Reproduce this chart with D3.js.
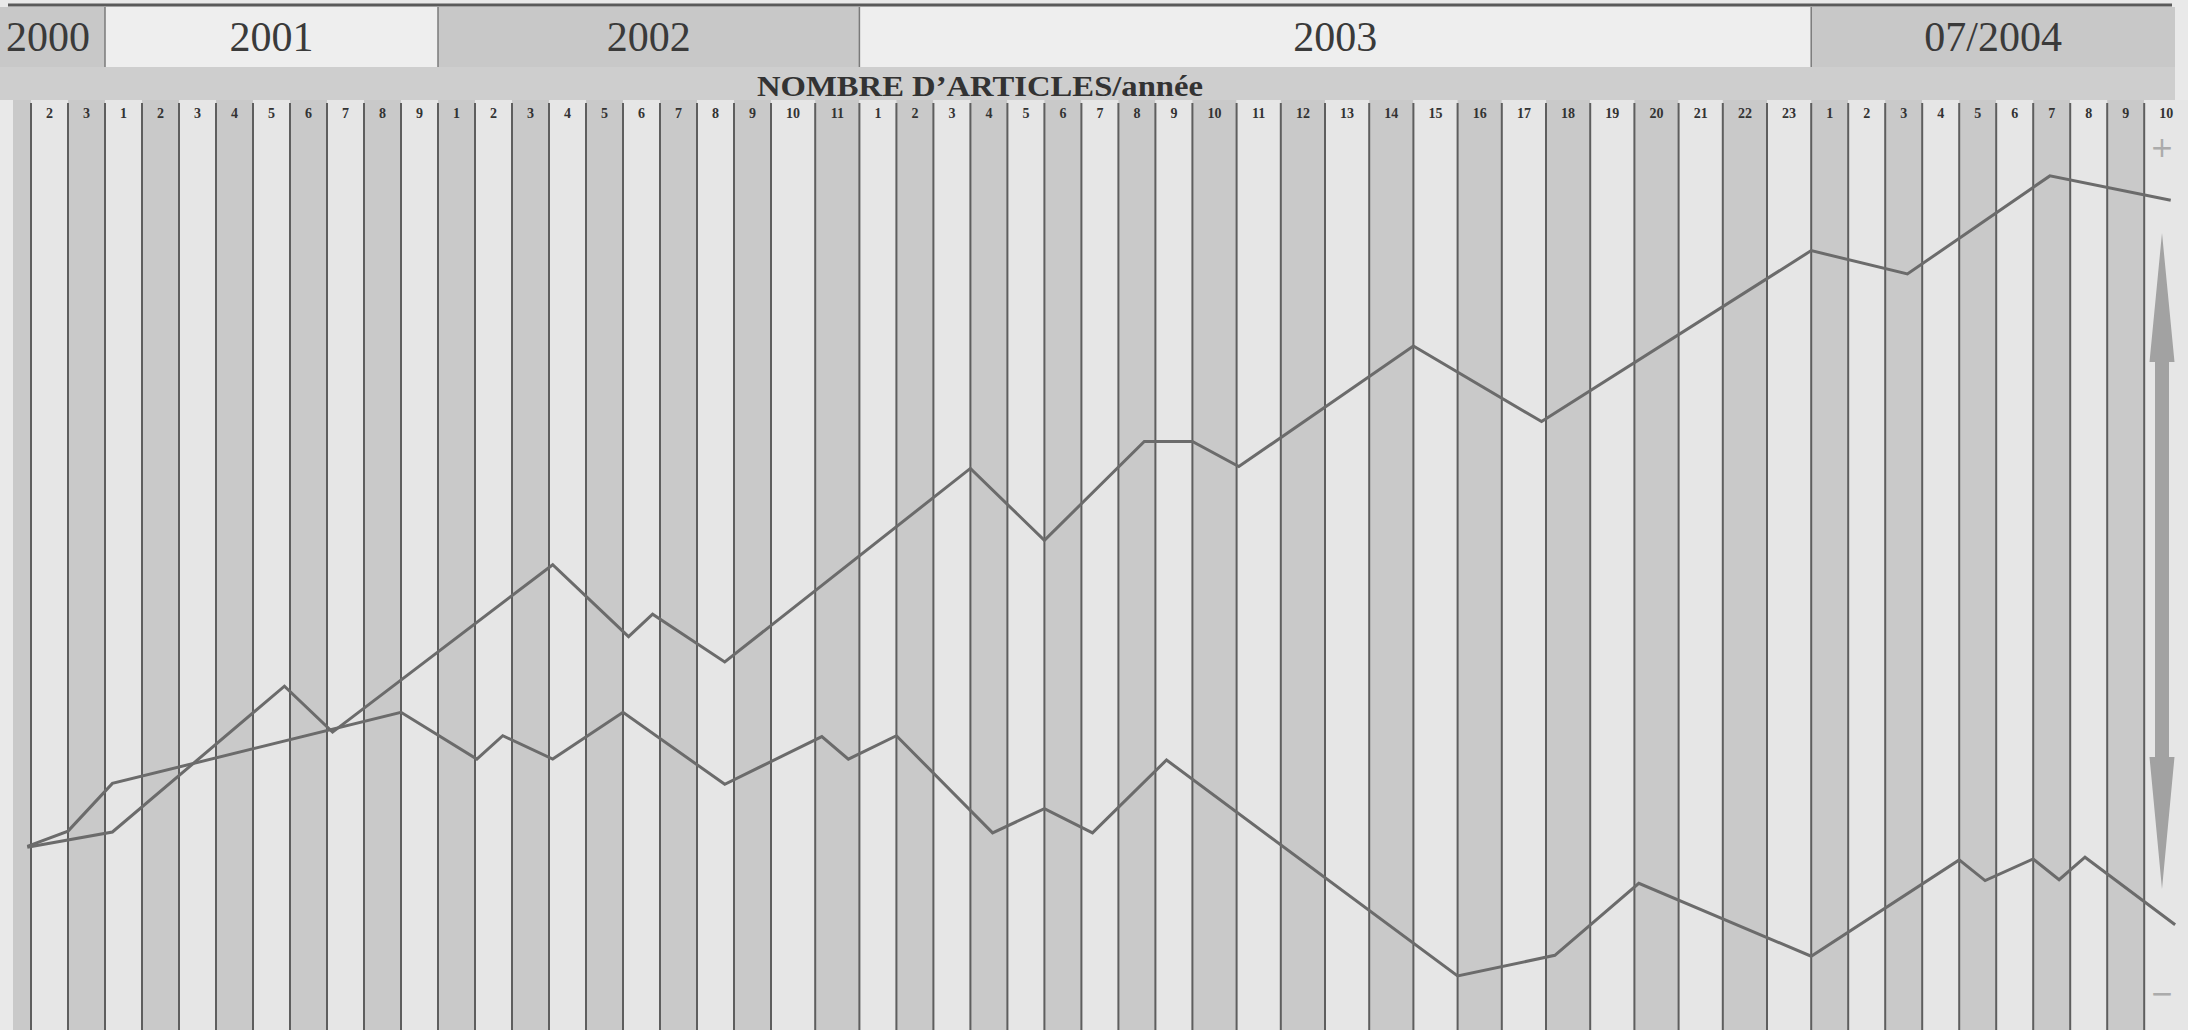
<!DOCTYPE html>
<html>
<head>
<meta charset="utf-8">
<script src="https://cdn.jsdelivr.net/npm/d3@7"></script>
<style>
	html, body { margin: 0; padding: 0; background: #e9e9e9; }
	svg { display: block; }
</style>
</head>
<body>
<div class="plot-1"></div>
<script>
/*Données du graphique*/
const years = [ '2000', '2001', '2002', '2003', '07/2004' ];
const labels2000 = [ '2', '3' ];
const labels2001 = [ '1', '2', '3', '4', '5', '6', '7', '8', '9' ];
const labels2002 = [ '1', '2', '3', '4', '5', '6', '7', '8', '9', '10', '11' ];
const labels2003 = [ '1', '2', '3', '4', '5', '6', '7', '8', '9', '10', '11', '12',
					'13', '14', '15', '16', '17', '18', '19', '20', '21', '22', '23' ];
const labels2004 = [ '1', '2', '3', '4', '5', '6', '7', '8', '9', '10' ];
const titre = 'NOMBRE D\u2019ARTICLES/année';

//période = rang de la colonne depuis la première colonne de 2000
const periodesA = [ -0.1, 2.2, 6.85, 8.15, 14.1, 16.15, 16.8, 18.75, 25, 27, 29.7, 31,
					32.05, 36, 38.9, 45, 47.6, 51.45, 54.6 ];
const articlesA = [ 20.3, 22.0, 38.2, 33.1, 51.7, 43.7, 46.2, 40.9, 62.4, 54.4, 65.4, 65.4,
					62.6, 76.0, 67.6, 86.6, 84.0, 94.9, 92.2 ];
const periodesB = [ -0.1, 1, 2.2, 10, 12.05, 12.75, 14.1, 16, 18.75, 21.15, 21.75, 23,
					25.6, 27, 28.3, 30.3, 37, 39.2, 41.1, 45, 49, 49.7, 51, 51.7, 52.4, 54.7 ];
const articlesB = [ 20.4, 22.1, 27.4, 35.3, 30.1, 32.7, 30.1, 35.3, 27.3, 32.6, 30.1, 32.7,
					21.9, 24.6, 21.9, 30.0, 6.0, 8.3, 16.3, 8.2, 18.9, 16.6, 19.0, 16.7, 19.2, 11.7 ];

/*Dimensions*/
var svgDims = { width: 2188, height: 1030 };
var haut = { line: 5, box: 7, boxBottom: 67, cols: 100 };
var colStart = 31;

var light = '#e6e6e6', dark = '#c9c9c9', bande = '#cecece', blanc = '#eeeeee';

//colonnes: largeur selon le nombre de chiffres du label
var yearLabels = [ labels2000, labels2001, labels2002, labels2003, labels2004 ];
var colonnes = [];
yearLabels.forEach( function( labs, i ){
	labs.forEach( function( l ){ colonnes.push( { label: l, year: i } ); } );
} );
var edges = [ colStart ];
colonnes.forEach( function( c ){
	edges.push( edges[ edges.length - 1 ] + ( c.label.length > 1 ? 44.2 : 37 ) );
} );

var xScale = d3.scaleLinear()
				.domain( d3.range( edges.length ) )
				.range( edges );

var yScale = d3.scaleLinear()
				.domain( [ 0, 100 ] )
				.range( [ svgDims.height, 130 ] );

//criar svg
var svg = d3.select( '.plot-1' )
			.append( 'svg' )
			.attr( 'width', svgDims.width )
			.attr( 'height', svgDims.height );

svg.append( 'rect' )
	.attr( 'width', svgDims.width ).attr( 'height', svgDims.height )
	.attr( 'fill', '#e9e9e9' );

//bande d'en-tête
svg.append( 'rect' )
	.attr( 'x', 0 ).attr( 'y', haut.box )
	.attr( 'width', 2175 ).attr( 'height', haut.cols - haut.box )
	.attr( 'fill', bande );

//cases des années
var debut = 0;
var cases = years.map( function( y, i ){
	var n = yearLabels[ i ].length;
	var x0 = i === 0 ? 0 : xScale( debut );
	var x1 = i === years.length - 1 ? 2175 : xScale( debut + n );
	debut += n;
	return { year: y, x0: x0, x1: x1, i: i };
} );

svg.selectAll( '.case' )
	.data( cases )
	.enter().append( 'rect' )
	.attr( 'x', function( d ){ return d.x0; } )
	.attr( 'y', haut.box )
	.attr( 'width', function( d ){ return d.x1 - d.x0; } )
	.attr( 'height', haut.boxBottom - haut.box )
	.attr( 'fill', function( d ){ return d.i % 2 ? blanc : '#c8c8c8'; } );

svg.selectAll( '.sep' )
	.data( cases.slice( 1 ) )
	.enter().append( 'line' )
	.attr( 'x1', function( d ){ return d.x0; } )
	.attr( 'x2', function( d ){ return d.x0; } )
	.attr( 'y1', haut.box ).attr( 'y2', haut.boxBottom )
	.attr( 'stroke', '#7a7a7a' ).attr( 'stroke-width', 1.5 );

svg.append( 'line' )
	.attr( 'x1', 8 ).attr( 'x2', 2172 )
	.attr( 'y1', haut.line ).attr( 'y2', haut.line )
	.attr( 'stroke', '#5a5a5a' ).attr( 'stroke-width', 3 );

svg.selectAll( '.annee' )
	.data( cases )
	.enter().append( 'text' )
	.attr( 'x', function( d ){ return d.i === 0 ? 90 : ( d.x0 + d.x1 ) / 2; } )
	.attr( 'y', 51 )
	.attr( 'text-anchor', function( d ){ return d.i === 0 ? 'end' : 'middle'; } )
	.style( 'font-family', '"Liberation Serif", "Times New Roman", serif' )
	.style( 'font-size', '42px' )
	.attr( 'fill', '#3a3a3a' )
	.text( function( d ){ return d.year; } );

svg.append( 'text' )
	.attr( 'x', 980 ).attr( 'y', 96 )
	.attr( 'text-anchor', 'middle' )
	.attr( 'textLength', 446 )
	.attr( 'lengthAdjust', 'spacingAndGlyphs' )
	.style( 'font-family', '"Liberation Serif", "Times New Roman", serif' )
	.style( 'font-size', '30px' )
	.style( 'font-weight', 'bold' )
	.attr( 'fill', '#333' )
	.text( titre );

//colonnes
svg.append( 'rect' )
	.attr( 'x', 13 ).attr( 'y', haut.cols )
	.attr( 'width', colStart - 13 ).attr( 'height', svgDims.height - haut.cols )
	.attr( 'fill', dark );

svg.selectAll( '.col' )
	.data( colonnes )
	.enter().append( 'rect' )
	.attr( 'x', function( d, i ){ return xScale( i ); } )
	.attr( 'y', haut.cols )
	.attr( 'width', function( d, i ){ return xScale( i + 1 ) - xScale( i ); } )
	.attr( 'height', svgDims.height - haut.cols )
	.attr( 'fill', function( d, i ){ return i % 2 ? dark : light; } );

svg.selectAll( '.trait' )
	.data( colonnes )
	.enter().append( 'line' )
	.attr( 'x1', function( d, i ){ return xScale( i ); } )
	.attr( 'x2', function( d, i ){ return xScale( i ); } )
	.attr( 'y1', haut.cols + 3 ).attr( 'y2', svgDims.height )
	.attr( 'stroke', '#5e5e5e' ).attr( 'stroke-width', 2 );

svg.selectAll( '.lab' )
	.data( colonnes )
	.enter().append( 'text' )
	.attr( 'x', function( d, i ){ return ( xScale( i ) + xScale( i + 1 ) ) / 2; } )
	.attr( 'y', 118 )
	.attr( 'text-anchor', 'middle' )
	.style( 'font-family', '"Liberation Serif", "Times New Roman", serif' )
	.style( 'font-size', '14px' )
	.style( 'font-weight', 'bold' )
	.attr( 'fill', '#333' )
	.text( function( d ){ return d.label; } );

//courbes
var ligne = d3.line()
				.x( function( d ){ return xScale( d[ 0 ] ); } )
				.y( function( d ){ return yScale( d[ 1 ] ); } );

[ [ periodesA, articlesA ], [ periodesB, articlesB ] ].forEach( function( s ){
	svg.append( 'path' )
		.datum( d3.zip( s[ 0 ], s[ 1 ] ) )
		.attr( 'd', ligne )
		.attr( 'fill', 'none' )
		.attr( 'stroke', '#6b6b6b' )
		.attr( 'stroke-width', 3 )
		.attr( 'stroke-linejoin', 'miter' );
} );

//flèche + / -
var cx = 2162;
svg.append( 'path' )
	.attr( 'd', 'M' + cx + ',233 L' + ( cx + 12.5 ) + ',362 L' + ( cx + 7 ) + ',362 L' + ( cx + 7 ) + ',757 L'
		+ ( cx + 12.5 ) + ',757 L' + cx + ',889 L' + ( cx - 12.5 ) + ',757 L' + ( cx - 7 ) + ',757 L'
		+ ( cx - 7 ) + ',362 L' + ( cx - 12.5 ) + ',362 Z' )
	.attr( 'fill', '#a2a2a2' );

svg.append( 'text' )
	.attr( 'x', cx ).attr( 'y', 157 )
	.attr( 'text-anchor', 'middle' )
	.style( 'font-family', '"DejaVu Sans", sans-serif' )
	.style( 'font-size', '28px' )
	.attr( 'fill', '#ababab' )
	.text( '+' );

svg.append( 'text' )
	.attr( 'x', cx ).attr( 'y', 1003 )
	.attr( 'text-anchor', 'middle' )
	.style( 'font-family', '"DejaVu Sans", sans-serif' )
	.style( 'font-size', '28px' )
	.attr( 'fill', '#ababab' )
	.text( '\u2212' );
</script>
</body>
</html>
